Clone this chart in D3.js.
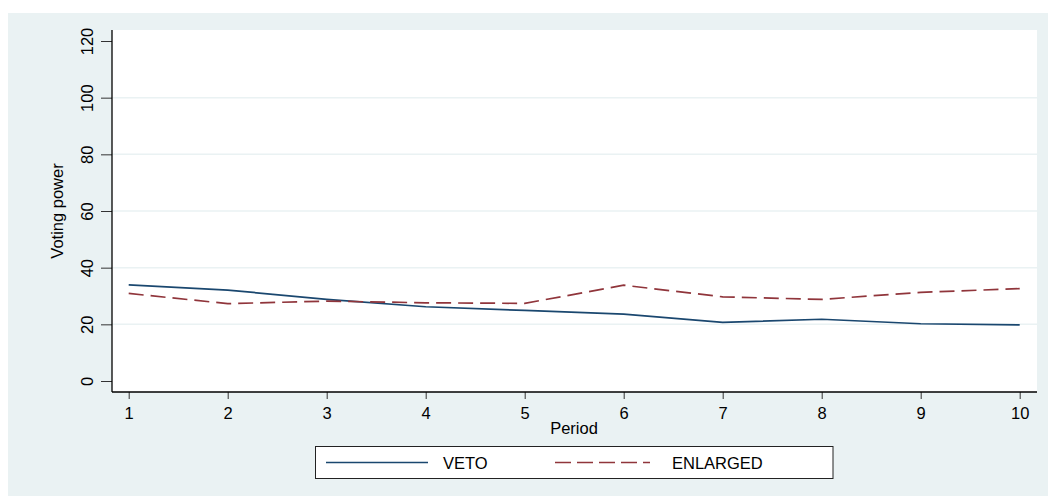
<!DOCTYPE html>
<html>
<head>
<meta charset="utf-8">
<script src="https://cdn.jsdelivr.net/npm/d3@7"></script>
<style>
  html, body { margin: 0; padding: 0; background: #ffffff; }
  svg { display: block; }
  text { font-family: "Liberation Sans", Arial, sans-serif; fill: #000; }
</style>
</head>
<body>
<svg id="chart" width="1048" height="496"></svg>
<script>
const periods = [1, 2, 3, 4, 5, 6, 7, 8, 9, 10];
const veto = [33.9, 32.1, 28.8, 26.2, 24.9, 23.6, 20.7, 21.8, 20.2, 19.8];
const enlarged = [30.9, 27.3, 28.2, 27.6, 27.4, 33.8, 29.7, 28.8, 31.3, 32.6];
const yTicks = [0, 20, 40, 60, 80, 100, 120];
const seriesNames = ["VETO", "ENLARGED"];
const seriesColors = ["#1a476f", "#90353b"];

const svg = d3.select("#chart");
const W = 1048, H = 496;
const FS = 16.5;

// outer shaded region
svg.append("rect").attr("x", 8).attr("y", 13).attr("width", W - 8).attr("height", H - 13)
  .attr("fill", "#eaf2f3");

const plot = { left: 112, right: 1037, top: 30, bottom: 392 };
svg.append("rect").attr("x", plot.left).attr("y", plot.top)
  .attr("width", plot.right - plot.left).attr("height", plot.bottom - plot.top)
  .attr("fill", "#ffffff");

const x = d3.scaleLinear().domain([1, 10]).range([128.7, 1019.7]);
const y = d3.scaleLinear().domain([0, 120]).range([381, 41]);

// gridlines
svg.append("g").selectAll("line").data(yTicks.filter(v => v > 0 && v < 120)).join("line")
  .attr("x1", plot.left).attr("x2", plot.right)
  .attr("y1", d => y(d)).attr("y2", d => y(d))
  .attr("stroke", "#eaf2f3").attr("stroke-width", 1.5);

// series lines
const line = d3.line().x((d, i) => x(periods[i])).y(d => y(d));
svg.append("path").datum(veto).attr("d", line)
  .attr("fill", "none").attr("stroke", seriesColors[0]).attr("stroke-width", 1.7);
svg.append("path").datum(enlarged).attr("d", line)
  .attr("fill", "none").attr("stroke", seriesColors[1]).attr("stroke-width", 1.7)
  .attr("stroke-dasharray", "15,7");

// x axis
const xAxis = d3.axisBottom(x).tickValues(periods).tickSize(7).tickPadding(4).tickFormat(d3.format("d"));
const gx = svg.append("g").attr("transform", `translate(0,${plot.bottom})`).call(xAxis);
gx.select(".domain").remove();
gx.selectAll(".tick line").attr("stroke", "#333");
gx.selectAll(".tick text").attr("font-size", FS).attr("font-family", "Liberation Sans, Arial, sans-serif")
  .attr("fill", "#000").attr("y", 26.5).attr("dy", null);
svg.append("line").attr("x1", plot.left).attr("x2", plot.right)
  .attr("y1", plot.bottom).attr("y2", plot.bottom).attr("stroke", "#000").attr("stroke-width", 1.3);

// y axis
const yAxis = d3.axisLeft(y).tickValues(yTicks).tickSize(11).tickFormat(d3.format("d"));
const gy = svg.append("g").attr("transform", `translate(${plot.left},0)`).call(yAxis);
gy.select(".domain").remove();
gy.selectAll(".tick line").attr("stroke", "#333");
gy.selectAll(".tick text")
  .attr("font-size", FS).attr("font-family", "Liberation Sans, Arial, sans-serif").attr("fill", "#000")
  .attr("x", null).attr("dy", null).attr("y", null)
  .attr("text-anchor", "middle")
  .attr("transform", "translate(-19.5,0) rotate(-90)");
svg.append("line").attr("x1", plot.left).attr("x2", plot.left)
  .attr("y1", plot.top).attr("y2", plot.bottom).attr("stroke", "#000").attr("stroke-width", 1.3);

// axis titles
svg.append("text").attr("x", 574).attr("y", 433.5).attr("text-anchor", "middle")
  .attr("font-size", FS).text("Period");
svg.append("text").attr("transform", `translate(62.5,${(plot.top + plot.bottom) / 2}) rotate(-90)`)
  .attr("text-anchor", "middle").attr("font-size", FS).text("Voting power");

// legend
const lg = svg.append("g");
lg.append("rect").attr("x", 315.5).attr("y", 446.5).attr("width", 517.5).attr("height", 32)
  .attr("fill", "#ffffff").attr("stroke", "#222").attr("stroke-width", 1);
const legendItems = [
  { x1: 326, x2: 428, tx: 443, dash: null },
  { x1: 555, x2: 650, tx: 672, dash: "16,6" }
];
legendItems.forEach((it, i) => {
  lg.append("line").attr("x1", it.x1).attr("x2", it.x2).attr("y1", 462.5).attr("y2", 462.5)
    .attr("stroke", seriesColors[i]).attr("stroke-width", 1.7)
    .attr("stroke-dasharray", it.dash);
  lg.append("text").attr("x", it.tx).attr("y", 469).attr("font-size", FS).text(seriesNames[i]);
});
</script>
</body>
</html>
